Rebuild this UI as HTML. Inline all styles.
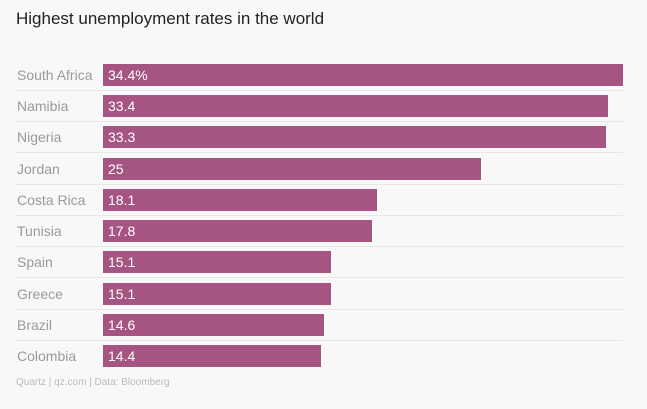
<!DOCTYPE html>
<html><head><style>
body{margin:0;width:647px;height:409px;background:#f8f8f8;font-family:"Liberation Sans",sans-serif;position:relative;overflow:hidden}
.t{position:absolute;left:16px;top:9px;font-size:17px;color:#222}
.r{position:absolute;left:16px;width:607px;height:22px}
.l{position:absolute;left:1px;top:3px;font-size:14px;color:#9a9a9a}
.b{position:absolute;left:87px;top:0;height:22px;background:#a65582}
.v{position:absolute;left:5px;top:3px;font-size:14px;color:#fff}
.s{position:absolute;left:16px;width:607px;height:1px;background:#e6e6e6}
.f{position:absolute;left:16px;top:377px;font-size:10px;color:#bbb}
</style></head><body>
<div class="t">Highest unemployment rates in the world</div>
<div class="r" style="top:64px"><div class="l">South Africa</div><div class="b" style="width:520px"><div class="v">34.4%</div></div></div>
<div class="s" style="top:90px"></div>
<div class="r" style="top:95px"><div class="l">Namibia</div><div class="b" style="width:505px"><div class="v">33.4</div></div></div>
<div class="s" style="top:121px"></div>
<div class="r" style="top:126px"><div class="l">Nigeria</div><div class="b" style="width:503px"><div class="v">33.3</div></div></div>
<div class="s" style="top:152px"></div>
<div class="r" style="top:158px"><div class="l">Jordan</div><div class="b" style="width:378px"><div class="v">25</div></div></div>
<div class="s" style="top:184px"></div>
<div class="r" style="top:189px"><div class="l">Costa Rica</div><div class="b" style="width:274px"><div class="v">18.1</div></div></div>
<div class="s" style="top:215px"></div>
<div class="r" style="top:220px"><div class="l">Tunisia</div><div class="b" style="width:269px"><div class="v">17.8</div></div></div>
<div class="s" style="top:246px"></div>
<div class="r" style="top:251px"><div class="l">Spain</div><div class="b" style="width:228px"><div class="v">15.1</div></div></div>
<div class="s" style="top:277px"></div>
<div class="r" style="top:283px"><div class="l">Greece</div><div class="b" style="width:228px"><div class="v">15.1</div></div></div>
<div class="s" style="top:309px"></div>
<div class="r" style="top:314px"><div class="l">Brazil</div><div class="b" style="width:221px"><div class="v">14.6</div></div></div>
<div class="s" style="top:340px"></div>
<div class="r" style="top:345px"><div class="l">Colombia</div><div class="b" style="width:218px"><div class="v">14.4</div></div></div>
<div class="f">Quartz | qz.com | Data: Bloomberg</div>
</body></html>
